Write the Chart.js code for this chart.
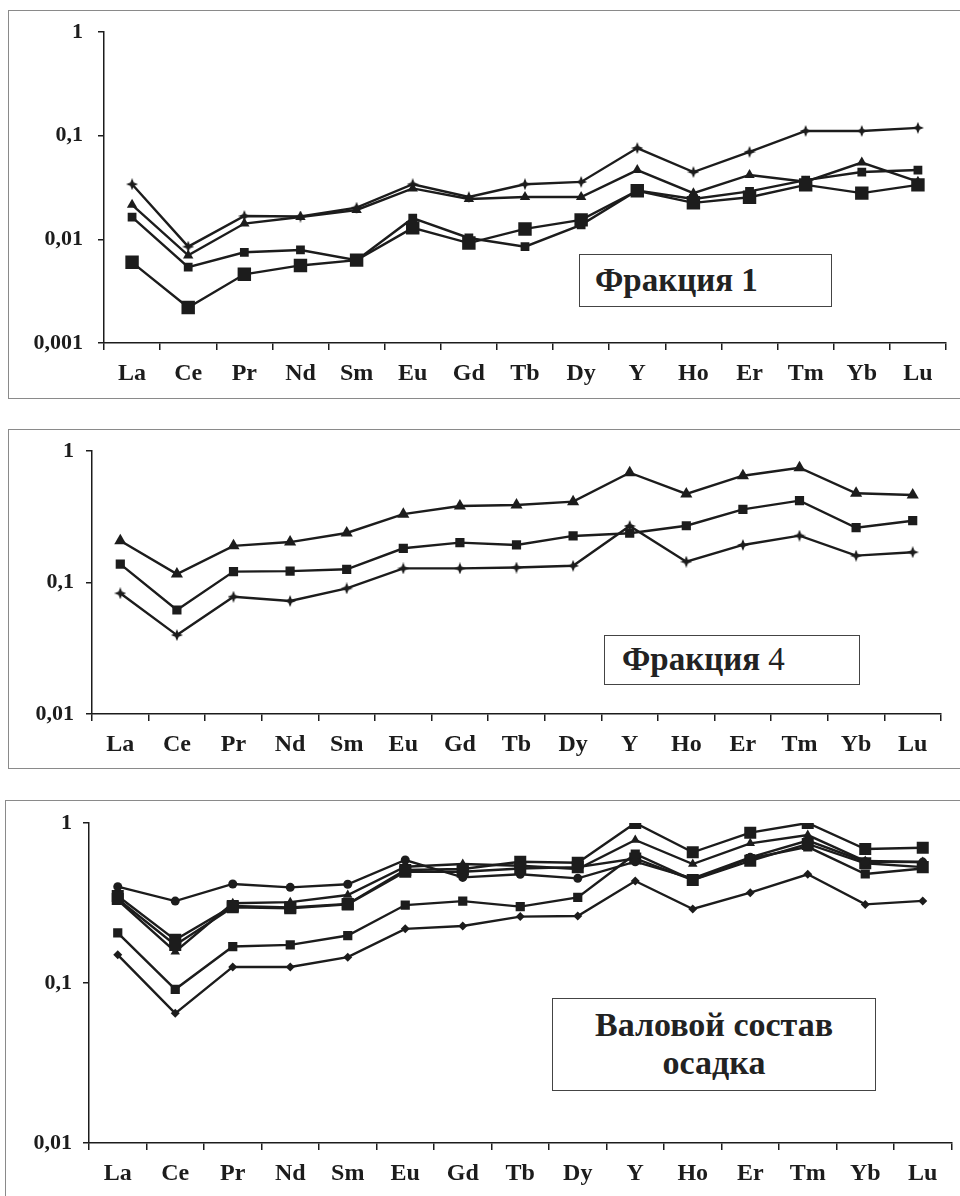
<!DOCTYPE html>
<html>
<head>
<meta charset="utf-8">
<script src="https://cdn.jsdelivr.net/npm/chart.js@4.4.1/dist/chart.umd.min.js"></script>
<style>
  body { margin: 0; background: #fff; width: 960px; height: 1196px; overflow: hidden; position: relative;
         font-family: "Liberation Serif", "Times New Roman", serif; }
  .frame { position: absolute; border: 1.5px solid #8a8a8a; box-sizing: border-box; }
  canvas { position: absolute; left: 0; }
  .tag { position: absolute; border: 1.5px solid #444; background: #fff; box-sizing: border-box; color: #222; font-weight: bold; }
</style>
</head>
<body>
<div class="frame" style="left:8px;top:10px;width:970px;height:389px"></div>
<div class="frame" style="left:8px;top:429px;width:970px;height:340px"></div>
<div class="frame" style="left:5px;top:800px;width:970px;height:420px"></div>

<canvas id="c1" width="960" height="400" style="top:0"></canvas>
<canvas id="c2" width="960" height="360" style="top:420px"></canvas>
<canvas id="c3" width="960" height="406" style="top:790px"></canvas>

<div class="tag" style="left:579px;top:254px;width:253px;height:53px;font-size:33px;line-height:50px;padding-left:15px">Фракция 1</div>
<div class="tag" style="left:604px;top:635px;width:256px;height:50px;font-size:33px;line-height:47px;padding-left:17px">Фракция<span style="font-weight:normal"> 4</span></div>
<div class="tag" style="left:552px;top:998px;width:324px;height:93px;font-size:34px;line-height:38px;padding-top:7px;text-align:center">Валовой состав<br>осадка</div>

<script>
// REE categories
const elements = ['La','Ce','Pr','Nd','Sm','Eu','Gd','Tb','Dy','Y','Ho','Er','Tm','Yb','Lu'];

// Фракция 1
const f1Star    = [0.034, 0.0085, 0.0168, 0.0166, 0.0202, 0.034, 0.0256, 0.034, 0.0358, 0.076, 0.0446, 0.0697, 0.111, 0.111, 0.119];
const f1Tri     = [0.0215, 0.0070, 0.0142, 0.0164, 0.0192, 0.031, 0.0245, 0.0256, 0.0256, 0.0466, 0.0279, 0.0418, 0.036, 0.055, 0.036];
const f1SqSmall = [0.0164, 0.0054, 0.0075, 0.0079, 0.0063, 0.016, 0.0103, 0.0085, 0.0138, 0.0296, 0.0245, 0.029, 0.0373, 0.0446, 0.0466];
const f1SqBig   = [0.0060, 0.0022, 0.0046, 0.0056, 0.0063, 0.0129, 0.0092, 0.0126, 0.0154, 0.0294, 0.0225, 0.0255, 0.0335, 0.0279, 0.0335];

// Фракция 4
const f4Tri  = [0.208, 0.116, 0.19, 0.203, 0.238, 0.331, 0.382, 0.388, 0.412, 0.684, 0.471, 0.649, 0.746, 0.477, 0.463];
const f4Sq   = [0.138, 0.0618, 0.121, 0.122, 0.126, 0.182, 0.201, 0.193, 0.226, 0.237, 0.27, 0.36, 0.419, 0.261, 0.295];
const f4Star = [0.0828, 0.0398, 0.078, 0.0723, 0.0903, 0.128, 0.128, 0.13, 0.134, 0.269, 0.144, 0.193, 0.227, 0.16, 0.17];

// Валовой состав осадка
const bulkSqA     = [0.35, 0.186, 0.303, 0.297, 0.312, 0.508, 0.516, 0.573, 0.565, 1.0, 0.656, 0.87, 1.0, 0.688, 0.70];
const bulkTri     = [0.33, 0.157, 0.315, 0.32, 0.355, 0.533, 0.554, 0.54, 0.516, 0.783, 0.554, 0.746, 0.841, 0.579, 0.57];
const bulkSqB     = [0.335, 0.173, 0.297, 0.293, 0.31, 0.496, 0.496, 0.52, 0.53, 0.60, 0.44, 0.58, 0.74, 0.56, 0.53];
const bulkCircle  = [0.40, 0.325, 0.416, 0.396, 0.414, 0.587, 0.457, 0.478, 0.451, 0.573, 0.45, 0.61, 0.776, 0.573, 0.57];
const bulkSqC     = [0.206, 0.0913, 0.169, 0.173, 0.198, 0.307, 0.325, 0.30, 0.343, 0.64, 0.44, 0.60, 0.71, 0.48, 0.52];
const bulkDiamond = [0.15, 0.0646, 0.126, 0.126, 0.145, 0.218, 0.227, 0.26, 0.262, 0.434, 0.29, 0.367, 0.478, 0.31, 0.326];

// y tick values / labels
const ticks1Vals = [0.001, 0.01, 0.1, 1];
const ticks1Text = ['0,001', '0,01', '0,1', '1'];
const ticks2Vals = [0.01, 0.1, 1];
const ticks2Text = ['0,01', '0,1', '1'];

const INK = '#1c1c1c';
const FONT = '"Liberation Serif", "Times New Roman", serif';

// 4-pointed star marker
function starMarker(size) {
  const c = document.createElement('canvas');
  c.width = c.height = size;
  const g = c.getContext('2d');
  const m = size / 2, k = size * 0.14;
  g.fillStyle = INK;
  g.beginPath();
  g.moveTo(m, 0); g.lineTo(m + k, m - k); g.lineTo(size, m); g.lineTo(m + k, m + k);
  g.lineTo(m, size); g.lineTo(m - k, m + k); g.lineTo(0, m); g.lineTo(m - k, m - k);
  g.closePath(); g.fill();
  return c;
}

function series(data, style, radius) {
  return {
    data, pointStyle: style, pointRadius: radius, pointHoverRadius: radius,
    borderColor: INK, backgroundColor: INK, pointBackgroundColor: INK,
    pointBorderColor: INK, pointBorderWidth: 0, borderWidth: 2.4, tension: 0, fill: false
  };
}

function panelChart(id, p) {
  return new Chart(document.getElementById(id), {
    type: 'line',
    data: { labels: elements, datasets: p.datasets },
    options: {
      responsive: false,
      animation: false,
      layout: { padding: { top: p.top, right: p.right, left: 0, bottom: 0 } },
      plugins: { legend: { display: false }, tooltip: { enabled: false } },
      scales: {
        x: {
          type: 'category', offset: true,
          grid: { offset: true, drawOnChartArea: false, color: INK, lineWidth: 1.5, tickLength: 7 },
          border: { color: INK, width: 1.5 },
          ticks: { color: INK, font: { family: FONT, size: 24, weight: 'bold' }, padding: 9, maxRotation: 0, autoSkip: false },
          afterFit: s => { s.height = p.xH; }
        },
        y: {
          type: 'logarithmic', min: p.tickVals[0], max: 1,
          afterBuildTicks: s => { s.ticks = p.tickVals.map(v => ({ value: v })); },
          grid: { drawOnChartArea: false, color: INK, lineWidth: 1.5, tickLength: 6 },
          border: { color: INK, width: 1.5 },
          ticks: { color: INK, font: { family: FONT, size: 22, weight: 'bold' }, padding: p.yPad,
                   callback: (v, i) => p.tickText[i] },
          afterFit: s => { s.width = p.yW; }
        }
      }
    }
  });
}

panelChart('c1', {
  top: 32, right: 14, xH: 57, yW: 104, yPad: 15,
  tickVals: ticks1Vals, tickText: ticks1Text,
  datasets: [
    series(f1SqBig, 'rect', 9.5),
    series(f1SqSmall, 'rect', 6.2),
    series(f1Tri, 'triangle', 6),
    series(f1Star, starMarker(12), 6)
  ]
});

panelChart('c2', {
  top: 31, right: 19, xH: 66, yW: 92, yPad: 12,
  tickVals: ticks2Vals, tickText: ticks2Text,
  datasets: [
    series(f4Tri, 'triangle', 7),
    series(f4Sq, 'rect', 6.5),
    series(f4Star, starMarker(12), 6)
  ]
});

panelChart('c3', {
  top: 33, right: 2, xH: 53, yW: 89, yPad: 11,
  tickVals: ticks2Vals, tickText: ticks2Text,
  datasets: [
    series(bulkDiamond, 'rectRot', 4.5),
    series(bulkSqC, 'rect', 6.5),
    series(bulkCircle, 'circle', 4.5),
    series(bulkSqB, 'rect', 8.5),
    series(bulkTri, 'triangle', 5.5),
    series(bulkSqA, 'rect', 8.5)
  ]
});
</script>
</body>
</html>
